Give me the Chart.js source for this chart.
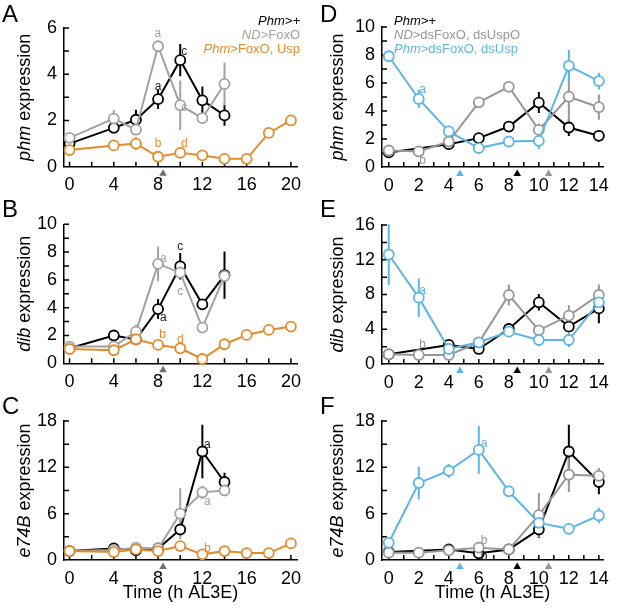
<!DOCTYPE html>
<html>
<head>
<meta charset="utf-8">
<script src="https://cdn.jsdelivr.net/npm/chart.js@4.4.1/dist/chart.umd.min.js"></script>
<style>
html, body { margin: 0; padding: 0; background: #fff; }
#fig { position: relative; width: 617px; height: 608px; overflow: hidden; }
#fig canvas { position: absolute; }
</style>
</head>
<body>
<div id="fig">
  <canvas id="cA" width="310" height="195" style="left:0;top:0"></canvas>
  <canvas id="cB" width="310" height="200" style="left:0;top:195px"></canvas>
  <canvas id="cC" width="310" height="213" style="left:0;top:395px"></canvas>
  <canvas id="cD" width="307" height="195" style="left:310px;top:0"></canvas>
  <canvas id="cE" width="307" height="200" style="left:310px;top:195px"></canvas>
  <canvas id="cF" width="307" height="213" style="left:310px;top:395px"></canvas>
</div>
<script>
(function () {

    "use strict";

    // ---- data (h AL3E) ----
    var hoursAC = [0, 4, 6, 8, 10, 12, 14, 16, 18, 20];
    var hoursDF = [0, 2, 4, 6, 8, 10, 12, 14];
    var xTicksAC = [0, 4, 8, 12, 16, 20];
    var xTicksDF = [0, 2, 4, 6, 8, 10, 12, 14];

    var yTicksA = [0, 2, 4, 6];
    var yTicksB = [0, 2, 4, 6, 8, 10];
    var yTicksC = [0, 6, 12, 18];
    var yTicksD = [0, 2, 4, 6, 8, 10];
    var yTicksE = [0, 4, 8, 12, 16];
    var yTicksF = [0, 6, 12, 18];

    // A  phm
    var phmCtrlA    = [1.00, 1.68, 2.03, 2.92, 4.61, 2.87, 2.22, null, null, null];
    var phmCtrlErrA = [0.08, 0.15, 0.43, 0.42, 0.70, 0.60, 0.45, 0, 0, 0];
    var phmNdA      = [1.25, 2.08, 1.60, 5.21, 2.66, 2.10, 3.58, null, null, null];
    var phmNdErrA   = [0.10, 0.37, 0.15, 0.10, 1.07, 0.10, 0.93, 0, 0, 0];
    var phmUspA     = [0.72, 0.92, 1.00, 0.43, 0.60, 0.49, 0.34, 0.34, 1.46, 2.00];
    var phmUspErrA  = [0.06, 0.08, 0.27, 0.08, 0.08, 0.06, 0.05, 0.05, 0.10, 0.08];

    // B  dib
    var dibCtrlB    = [1.08, 2.00, 1.72, 3.90, 6.98, 4.24, 6.35, null, null, null];
    var dibCtrlErrB = [0.10, 0.20, 0.10, 0.72, 0.95, 0.20, 1.70, 0, 0, 0];
    var dibNdB      = [1.20, 1.20, 2.28, 7.15, 6.52, 2.57, 6.28, null, null, null];
    var dibNdErrB   = [0.10, 0.10, 0.50, 1.25, 0.35, 0.30, 0.20, 0, 0, 0];
    var dibUspB     = [1.03, 0.94, 1.73, 1.32, 1.08, 0.31, 1.37, 2.04, 2.40, 2.64];
    var dibUspErrB  = [0.10, 0.10, 0.15, 0.10, 0.10, 0.08, 0.10, 0.30, 0.12, 0.10];

    // C  e74B
    var e74CtrlC    = [1.16, 1.50, 1.25, 1.50, 3.95, 14.05, 10.10, null, null, null];
    var e74CtrlErrC = [0.15, 0.20, 0.20, 0.20, 0.40, 3.45, 1.20, 0, 0, 0];
    var e74NdC      = [1.16, 1.30, 1.60, 1.50, 6.00, 8.76, 9.00, null, null, null];
    var e74NdErrC   = [0.10, 0.15, 0.20, 0.15, 3.30, 0.85, 0.30, 0, 0, 0];
    var e74UspC     = [1.16, 1.03, 1.37, 1.16, 1.80, 0.73, 1.16, 0.90, 0.90, 2.15];
    var e74UspErrC  = [0.10, 0.10, 0.20, 0.10, 0.20, 0.10, 0.10, 0.10, 0.10, 0.20];

    // D  phm
    var phmCtrlD    = [1.04, null, 1.63, 2.06, 2.89, 4.60, 2.82, 2.23];
    var phmCtrlErrD = [0.10, 0, 0.20, 0.30, 0.30, 0.75, 0.60, 0.40];
    var phmNdD      = [1.18, 1.11, 1.82, 4.62, 5.73, 2.65, 5.02, 4.27];
    var phmNdErrD   = [0.10, 0.10, 0.25, 0.30, 0.35, 0.45, 1.80, 0.90];
    var phmDsD      = [7.91, 4.86, 2.54, 1.35, 1.82, 1.87, 7.23, 6.14];
    var phmDsErrD   = [0.40, 0.65, 0.15, 0.10, 0.35, 0.60, 1.15, 0.60];

    // E  dib
    var dibCtrlE    = [1.11, null, 2.19, 1.73, 4.03, 7.10, 4.30, 6.40];
    var dibCtrlErrE = [0.10, 0, 0.20, 0.20, 0.70, 0.95, 0.25, 1.70];
    var dibNdE      = [1.11, 1.04, 1.04, 2.46, 7.94, 3.88, 5.56, 7.94];
    var dibNdErrE   = [0.10, 0.10, 0.10, 0.60, 1.20, 0.60, 1.20, 1.20];
    var dibDsE      = [12.60, 7.64, 1.73, 2.50, 3.72, 2.76, 2.76, 7.10];
    var dibDsErrE   = [3.50, 2.20, 0.30, 0.20, 0.60, 0.20, 0.80, 0.30];

    // F  e74B
    var e74CtrlF    = [1.03, null, 1.37, 0.86, 1.37, 3.95, 14.05, 10.10];
    var e74CtrlErrF = [0.10, 0, 0.20, 0.10, 0.20, 1.10, 3.45, 1.60];
    var e74NdF      = [0.95, 0.95, 1.25, 1.60, 1.37, 5.80, 11.04, 10.90];
    var e74NdErrF   = [0.10, 0.10, 0.10, 0.20, 0.10, 2.90, 2.25, 1.00];
    var e74DsF      = [2.23, 9.97, 11.56, 14.26, 8.90, 4.81, 4.04, 5.76];
    var e74DsErrF   = [0.20, 2.15, 0.90, 3.10, 0.20, 0.30, 0.20, 1.00];

    // significance letters [h, value, letter, series]
    var lettersA = [[7.97, 5.77, 'a', 'nd'], [8.0, 3.46, 'a', 'ctrl'], [10.37, 4.98, 'c', 'ctrl'],
                    [10.37, 2.57, 'c', 'nd'], [8.0, 1.01, 'b', 'mut'], [10.37, 1.0, 'd', 'mut']];
    var lettersB = [[8.48, 7.55, 'a', 'nd'], [10.0, 8.39, 'c', 'ctrl'], [10.0, 5.16, 'c', 'nd'],
                    [8.48, 3.31, 'a', 'ctrl'], [8.4, 2.04, 'b', 'mut'], [10.0, 1.73, 'd', 'mut']];
    var lettersC = [[12.45, 14.9, 'a', 'ctrl'], [12.45, 7.5, 'a', 'nd'], [12.45, 1.5, 'b', 'mut']];
    var lettersD = [[2.26, 5.5, 'a', 'mut'], [2.26, 0.45, 'b', 'nd']];
    var lettersE = [[2.26, 8.44, 'a', 'mut'], [2.26, 2.26, 'b', 'nd']];
    var lettersF = [[6.36, 15.1, 'a', 'mut'], [6.36, 2.53, 'b', 'nd'], [6.36, 0.43, 'b', 'ctrl']];

    // arrowheads under the time axis [h, series]
    var marksAC = [[8.45, 'mark']];
    var marksDF = [[4.74, 'mut'], [8.56, 'ctrl'], [10.65, 'nd']];

    // ---- style ----
    var FONT = '"Liberation Sans", Arial, Helvetica, sans-serif';
    var colorsAC = { ctrl: '#000000', nd: '#a2a2a2', mut: '#e28b2b', mark: '#6e6e6e' };
    var colorsDF = { ctrl: '#000000', nd: '#979797', mut: '#5db5e6' };

    var legendAC = [
        { parts: [['Phm>+', true]], key: 'ctrl' },
        { parts: [['ND', true], ['>FoxO', false]], key: 'nd' },
        { parts: [['Phm', true], ['>FoxO, Usp', false]], key: 'mut' }
    ];
    var legendDF = [
        { parts: [['Phm>+', true]], key: 'ctrl' },
        { parts: [['ND', true], ['>dsFoxO, dsUspO', false]], key: 'nd' },
        { parts: [['Phm', true], ['>dsFoxO, dsUsp', false]], key: 'mut' }
    ];

    function drawRich(ctx, parts, x, y, align, size, color) {
        var widths = [], total = 0;
        parts.forEach(function (p) {
            ctx.font = (p[1] ? 'italic ' : '') + size + 'px ' + FONT;
            var w = ctx.measureText(p[0]).width;
            widths.push(w);
            total += w;
        });
        var start = x;
        if (align === 'right') start = x - total;
        if (align === 'center') start = x - total / 2;
        ctx.fillStyle = color;
        ctx.textAlign = 'left';
        parts.forEach(function (p, i) {
            ctx.font = (p[1] ? 'italic ' : '') + size + 'px ' + FONT;
            ctx.fillText(p[0], start, y);
            start += widths[i];
        });
    }

    function makePanel(p) {
        var keys = ['ctrl', 'nd', 'mut'];
        var order = { ctrl: 2, nd: 1, mut: 0 };

        var datasets = keys.map(function (k) {
            var vals = p.series[k][0];
            return {
                data: p.hours.map(function (h, j) { return { x: h, y: vals[j] }; }),
                borderColor: p.colors[k],
                backgroundColor: p.colors[k],
                borderWidth: 2,
                pointRadius: 5,
                pointHoverRadius: 5,
                pointBorderWidth: 1.8,
                pointBackgroundColor: '#ffffff',
                pointBorderColor: p.colors[k],
                tension: 0,
                spanGaps: true,
                clip: false,
                order: order[k]
            };
        });

        var deco = {
            id: 'deco',
            beforeDatasetsDraw: function (chart) {
                var ctx = chart.ctx, xs = chart.scales.x, ys = chart.scales.y, a = chart.chartArea;
                var v;
                ctx.save();
                // inward ticks
                ctx.strokeStyle = '#000';
                ctx.lineWidth = 1.5;
                ctx.beginPath();
                var lastX = p.xTicks[p.xTicks.length - 1];
                for (v = 0; v <= lastX + 1e-9; v += p.xMinor) {
                    var px = xs.getPixelForValue(v);
                    ctx.moveTo(px, a.bottom);
                    ctx.lineTo(px, a.bottom - 5);
                }
                for (v = p.yMinor; v <= p.yMax + 1e-9; v += p.yMinor) {
                    var py = ys.getPixelForValue(v);
                    ctx.moveTo(a.left, py);
                    ctx.lineTo(a.left + 5, py);
                }
                ctx.stroke();
                // error bars
                ctx.lineWidth = 2;
                keys.forEach(function (k) {
                    var vals = p.series[k][0], errs = p.series[k][1];
                    ctx.strokeStyle = p.colors[k];
                    ctx.beginPath();
                    p.hours.forEach(function (h, j) {
                        if (vals[j] === null || !errs[j]) return;
                        var x = xs.getPixelForValue(h);
                        ctx.moveTo(x, ys.getPixelForValue(vals[j] + errs[j]));
                        ctx.lineTo(x, ys.getPixelForValue(Math.max(0, vals[j] - errs[j])));
                    });
                    ctx.stroke();
                });
                ctx.restore();
            },
            afterDraw: function (chart) {
                var ctx = chart.ctx, xs = chart.scales.x, ys = chart.scales.y, a = chart.chartArea;
                ctx.save();

                // arrowheads
                p.marks.forEach(function (m) {
                    var x = xs.getPixelForValue(m[0]);
                    ctx.fillStyle = p.colors[m[1]];
                    ctx.beginPath();
                    ctx.moveTo(x, a.bottom + 2.5);
                    ctx.lineTo(x - 3.8, a.bottom + 9);
                    ctx.lineTo(x + 3.8, a.bottom + 9);
                    ctx.closePath();
                    ctx.fill();
                });

                // letters
                ctx.font = '12px ' + FONT;
                ctx.textAlign = 'center';
                ctx.textBaseline = 'middle';
                p.letters.forEach(function (l) {
                    ctx.fillStyle = l[3] === 'ctrl' ? '#222' : p.colors[l[3]];
                    ctx.fillText(l[2], xs.getPixelForValue(l[0]), ys.getPixelForValue(l[1]));
                });

                // y title
                ctx.save();
                ctx.translate(p.yTitleX, (a.top + a.bottom) / 2);
                ctx.rotate(-Math.PI / 2);
                ctx.textBaseline = 'middle';
                drawRich(ctx, [[p.gene, true], [' expression', false]], 0, 0, 'center', 18, '#000');
                ctx.restore();

                // x title
                if (p.xTitle) {
                    ctx.font = '18px ' + FONT;
                    ctx.fillStyle = '#000';
                    ctx.textAlign = 'center';
                    ctx.textBaseline = 'middle';
                    ctx.fillText(p.xTitle, (a.left + a.right) / 2, p.xTitleY);
                }

                // panel letter
                ctx.font = '24px ' + FONT;
                ctx.fillStyle = '#000';
                ctx.textAlign = 'left';
                ctx.textBaseline = 'alphabetic';
                ctx.fillText(p.name, p.letterX, p.letterY);

                // legend
                if (p.legend) {
                    ctx.textBaseline = 'alphabetic';
                    p.legend.forEach(function (row, i) {
                        drawRich(ctx, row.parts, p.legendX, 25 + i * 14, p.legendAlign, 13, p.colors[row.key]);
                    });
                }
                ctx.restore();
            }
        };

        var tickFont = { family: FONT, size: 18 };

        return new Chart(document.getElementById(p.canvas), {
            type: 'line',
            data: { datasets: datasets },
            options: {
                responsive: false,
                animation: false,
                events: [],
                layout: { padding: { left: 0, top: p.top, right: p.right, bottom: 0 } },
                plugins: { legend: { display: false }, tooltip: { enabled: false } },
                scales: {
                    x: {
                        type: 'linear',
                        min: p.xMin,
                        max: p.xMax,
                        afterBuildTicks: function (s) { s.ticks = p.xTicks.map(function (v) { return { value: v }; }); },
                        afterFit: function (s) { s.height = p.xH; },
                        grid: { drawOnChartArea: false, drawTicks: false },
                        border: { color: '#000', width: 1.5 },
                        ticks: { font: tickFont, color: '#000', padding: 8, maxRotation: 0, autoSkip: false }
                    },
                    y: {
                        min: 0,
                        max: p.yMax,
                        afterBuildTicks: function (s) { s.ticks = p.yTicks.map(function (v) { return { value: v }; }); },
                        afterFit: function (s) { s.width = p.yW; },
                        grid: { drawOnChartArea: false, drawTicks: false },
                        border: { color: '#000', width: 1.5 },
                        ticks: { font: tickFont, color: '#000', padding: 7, autoSkip: false }
                    }
                }
            },
            plugins: [deco]
        });
    }

    var left = { hours: hoursAC, xTicks: xTicksAC, xMin: -0.5, xMax: 20.55, xMinor: 2,
                 yW: 64, right: 13, colors: colorsAC, marks: marksAC, yTitleX: 25, letterX: 2 };
    var right = { hours: hoursDF, xTicks: xTicksDF, xMin: -0.45, xMax: 14.28, xMinor: 1,
                  yW: 72, right: 7, colors: colorsDF, marks: marksDF, yTitleX: 28, letterX: 10 };

    function panel(base, extra) {
        var p = {};
        Object.keys(base).forEach(function (k) { p[k] = base[k]; });
        Object.keys(extra).forEach(function (k) { p[k] = extra[k]; });
        return p;
    }

    makePanel(panel(left, {
        name: 'A', canvas: 'cA', gene: 'phm', top: 28, xH: 28.3, yMax: 6, yMinor: 1, yTicks: yTicksA,
        series: { ctrl: [phmCtrlA, phmCtrlErrA], nd: [phmNdA, phmNdErrA], mut: [phmUspA, phmUspErrA] },
        letters: lettersA, letterY: 22, legend: legendAC, legendX: 300, legendAlign: 'right'
    }));
    makePanel(panel(left, {
        name: 'B', canvas: 'cB', gene: 'dib', top: 29.3, xH: 31.7, yMax: 10, yMinor: 1, yTicks: yTicksB,
        series: { ctrl: [dibCtrlB, dibCtrlErrB], nd: [dibNdB, dibNdErrB], mut: [dibUspB, dibUspErrB] },
        letters: lettersB, letterY: 22
    }));
    makePanel(panel(left, {
        name: 'C', canvas: 'cC', gene: 'e74B', top: 26, xH: 48, yMax: 18, yMinor: 3, yTicks: yTicksC,
        series: { ctrl: [e74CtrlC, e74CtrlErrC], nd: [e74NdC, e74NdErrC], mut: [e74UspC, e74UspErrC] },
        letters: lettersC, letterY: 19, xTitle: 'Time (h AL3E)', xTitleY: 198
    }));
    makePanel(panel(right, {
        name: 'D', canvas: 'cD', gene: 'phm', top: 27, xH: 28, yMax: 10, yMinor: 1, yTicks: yTicksD,
        series: { ctrl: [phmCtrlD, phmCtrlErrD], nd: [phmNdD, phmNdErrD], mut: [phmDsD, phmDsErrD] },
        letters: lettersD, letterY: 22, legend: legendDF, legendX: 84, legendAlign: 'left'
    }));
    makePanel(panel(right, {
        name: 'E', canvas: 'cE', gene: 'dib', top: 30, xH: 31, yMax: 16, yMinor: 2, yTicks: yTicksE,
        series: { ctrl: [dibCtrlE, dibCtrlErrE], nd: [dibNdE, dibNdErrE], mut: [dibDsE, dibDsErrE] },
        letters: lettersE, letterY: 22
    }));
    makePanel(panel(right, {
        name: 'F', canvas: 'cF', gene: 'e74B', top: 26, xH: 48, yMax: 18, yMinor: 3, yTicks: yTicksF,
        series: { ctrl: [e74CtrlF, e74CtrlErrF], nd: [e74NdF, e74NdErrF], mut: [e74DsF, e74DsErrF] },
        letters: lettersF, letterY: 19, xTitle: 'Time (h AL3E)', xTitleY: 198
    }));

})();
</script>
</body>
</html>
